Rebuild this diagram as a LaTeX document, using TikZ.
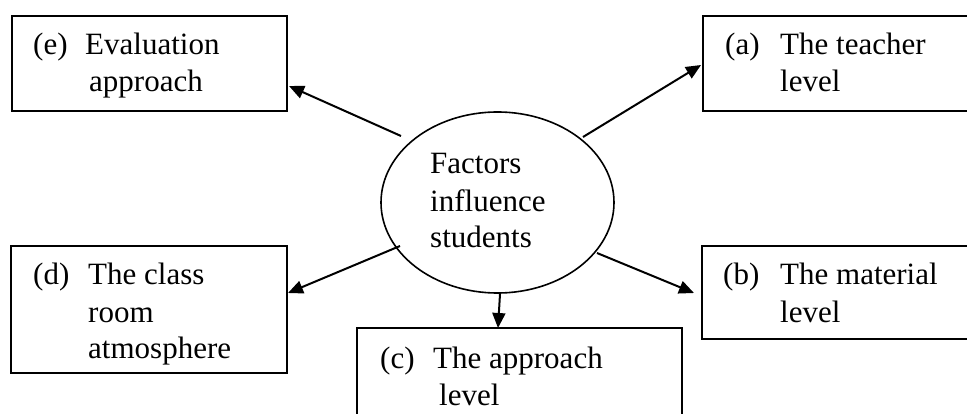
\documentclass[tikz,border=0pt]{standalone}
\usepackage{fontspec}
\setmainfont{Liberation Serif}
\usetikzlibrary{arrows.meta,shapes.geometric}
\begin{document}
\begin{tikzpicture}[x=1pt,y=-1pt,
  box/.style={draw,line width=1.8pt,inner sep=0pt},
  lbl/.style={anchor=base west,inner sep=0pt,font=\fontsize{31}{37}\selectfont},
  arr/.style={line width=2pt,-{Triangle[length=15pt,width=13pt]}}]
\useasboundingbox (0,0) rectangle (967,414);
% boxes
\node[box,minimum width=275pt,minimum height=95pt] (ebox) at (149.5,63.5) {};
\node[box,minimum width=272pt,minimum height=95pt] (abox) at (839,63.5) {};
\node[box,minimum width=276pt,minimum height=127pt] (dbox) at (149,309.5) {};
\node[box,minimum width=273pt,minimum height=93pt] (bbox) at (838.5,292.5) {};
\node[box,minimum width=325pt,minimum height=97pt] (cbox) at (519.5,376.5) {};
\node[draw,ellipse,line width=1.6pt,inner sep=0pt,minimum width=233pt,minimum height=181pt] (ell) at (497.5,202.5) {};
% texts
\node[lbl] (e1) at (33,55) {(e)};
\node[lbl] (e2) at (85,55) {Evaluation};
\node[lbl] (e3) at (89,92) {approach};
\node[lbl] (a1) at (725,55) {(a)};
\node[lbl] (a2) at (780,55) {The teacher};
\node[lbl] (a3) at (780,92) {level};
\node[lbl] (f1) at (430,174) {Factors};
\node[lbl] (f2) at (430,212) {influence};
\node[lbl] (f3) at (430,248) {students};
\node[lbl] (d1) at (33,285) {(d)};
\node[lbl] (d2) at (88,285) {The class};
\node[lbl] (d3) at (88,323) {room};
\node[lbl] (d4) at (88,358) {atmosphere};
\node[lbl] (b1) at (723,285) {(b)};
\node[lbl] (b2) at (780,285) {The material};
\node[lbl] (b3) at (780,322) {level};
\node[lbl] (c1) at (380,368) {(c)};
\node[lbl] (c2) at (433,368) {The approach};
\node[lbl] (c3) at (439,405) {level};
% connector ends
\coordinate (se) at (401,136); \coordinate (te) at (289,86);
\coordinate (sa) at (583,137); \coordinate (ta) at (701,65);
\coordinate (sd) at (400,246); \coordinate (td) at (288,293);
\coordinate (sb) at (597,253); \coordinate (tb) at (694,293);
\coordinate (sc) at (500,294); \coordinate (tc) at (498,328);
\draw[arr] (se) -- (te);
\draw[arr] (sa) -- (ta);
\draw[arr] (sd) -- (td);
\draw[arr] (sb) -- (tb);
\draw[arr] (sc) -- (tc);
\end{tikzpicture}
\end{document}
